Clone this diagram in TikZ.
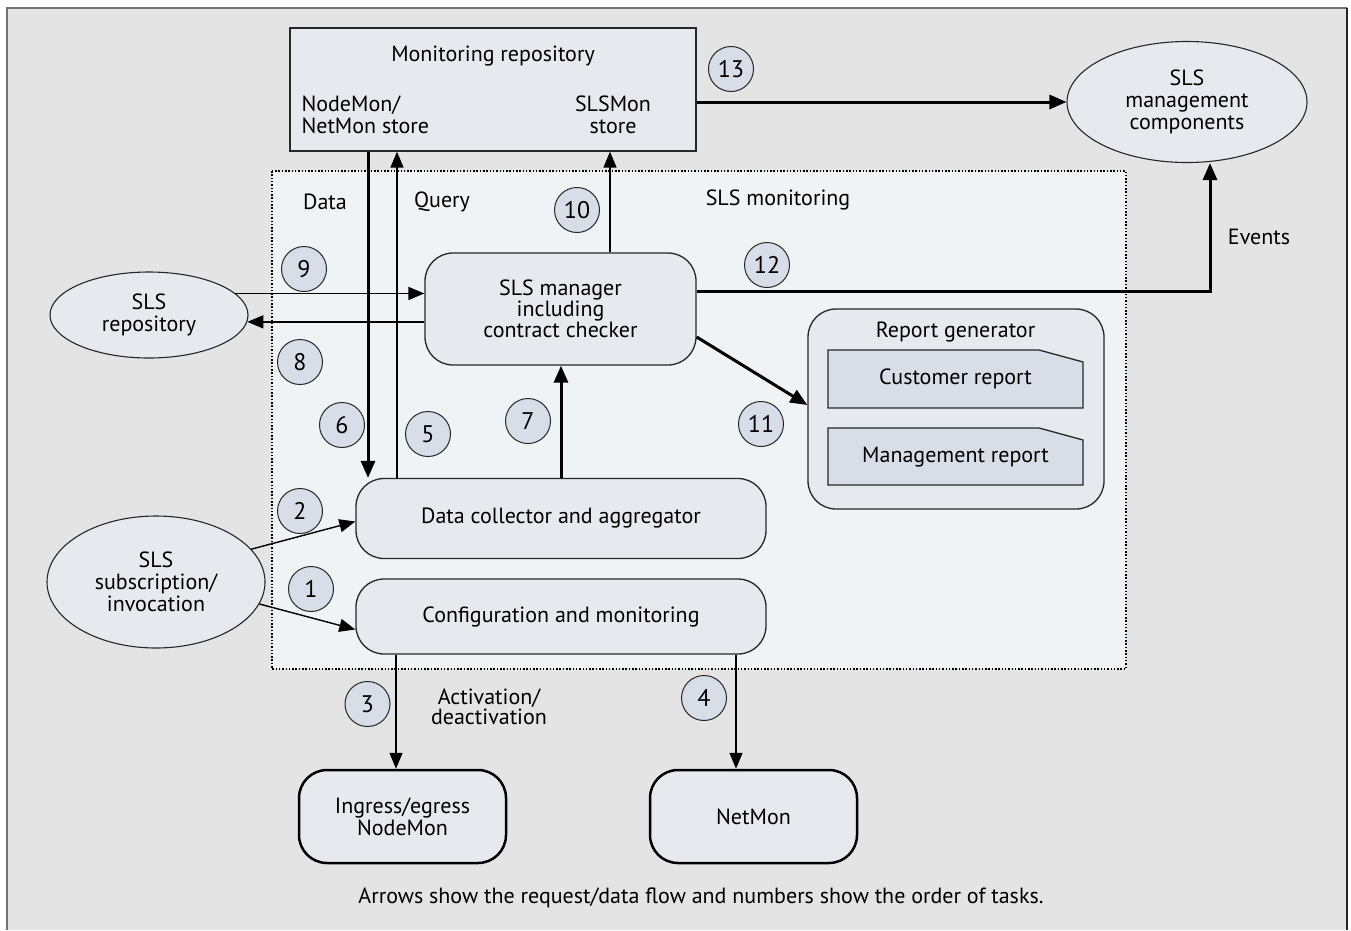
\documentclass[tikz,border=0pt]{standalone}
\usepackage{fontspec}
\setmainfont{PT Sans}
\usepackage{tikz}
\usepackage{xcolor}
\usetikzlibrary{arrows.meta,shapes.geometric,positioning}

\definecolor{framefill}{RGB}{228,228,228}
\definecolor{regionfill}{RGB}{240,243,246}
\definecolor{boxfill}{RGB}{230,234,238}
\definecolor{numfill}{RGB}{216,222,231}

\tikzset{
  box/.style={draw=black!85,fill=boxfill,rounded corners=28pt,line width=1.3pt,align=center},
  heavybox/.style={box,line width=2.5pt,draw=black},
  ell/.style={ellipse,draw=black!85,fill=boxfill,line width=1.1pt,align=center,inner sep=0pt},
  num/.style={circle,draw=black!85,fill=numfill,minimum size=45pt,inner sep=0pt,line width=1pt,font=\fontsize{24}{24}\selectfont},
  arr/.style={line width=1.4pt,-{Triangle[length=16pt,width=13pt]}},
  thickarr/.style={line width=3pt,-{Triangle[length=17pt,width=14pt]}},
  lbl/.style={align=center}
}

\begin{document}
\begin{tikzpicture}[x=1pt,y=-1pt,font=\fontsize{22}{22}\selectfont]
\useasboundingbox (0,0) rectangle (1351,930);

%Shape: Frame
\fill[framefill] (6,7) rectangle (1348,930);
\draw[line width=2pt,color=black!55] (7,930) -- (7,8) -- (1347,8);
\draw[line width=2pt,color=black!85] (1347,8) -- (1347,930);

%Shape: SLS monitoring region
\draw[line width=1.2pt,dash pattern={on 1.5pt off 1.8pt},fill=regionfill] (272,171) rectangle (1126,669);

%Shape: Monitoring repository
\node[draw=black!85,fill=boxfill,line width=1.3pt,minimum width=406pt,minimum height=123pt] (repo) at (493,89.5) {};
% Text Node
\node (repotitle) at (493,56) {Monitoring repository};
% Text Node
\node[anchor=west,align=left] (nodestore) at (298,115) {NodeMon/\\NetMon store};
% Text Node
\node[lbl] (slsstore) at (613,115) {SLSMon\\store};

%Shape: Ellipses
\node[ell,minimum width=240pt,minimum height=121pt] (mgmt) at (1187,102) {SLS\\management\\components};
\node[ell,minimum width=198pt,minimum height=86pt] (slsrepo) at (149,315) {SLS\\repository};
\node[ell,minimum width=218pt,minimum height=132pt] (subs) at (156,582) {SLS\\subscription/\\invocation};

%Shape: Rounded boxes
\node[box,minimum width=271pt,minimum height=112pt] (slsmgr) at (560.5,309) {SLS manager\\[-1pt]including\\[-1pt]contract checker};
\node[box,minimum width=410pt,minimum height=80pt] (collect) at (561,518.5) {Data collector and aggregator};
\node[box,minimum width=410pt,minimum height=75pt] (config) at (561,616.5) {Configuration and monitoring};
\node[heavybox,minimum width=207pt,minimum height=93pt] (ingress) at (402.5,816.5) {Ingress/egress\\NodeMon};
\node[heavybox,minimum width=207pt,minimum height=93pt] (netmon) at (753.5,816.5) {NetMon};

%Shape: Report generator
\node[box,minimum width=296pt,minimum height=200pt] (report) at (956,409) {};
% Text Node
\node (reporttitle) at (955.5,332) {Report generator};
\filldraw[draw=black!85,fill=numfill,line width=1.3pt] (828,408) -- (828,350) -- (1039,350) -- (1083,362) -- (1083,408) -- cycle;
\node (custrep) at (955.5,379) {Customer report};
\filldraw[draw=black!85,fill=numfill,line width=1.3pt] (828,485) -- (828,428) -- (1039,428) -- (1083,440) -- (1083,485) -- cycle;
\node (mgmtrep) at (955.5,457) {Management report};

%Straight Lines: connectors
\draw[thickarr] (repo.east |- mgmt.west) -- (mgmt.west);
\draw[thickarr] ([yshift=18pt]slsmgr.east) -| ([xshift=23pt]mgmt.south);
\draw[arr] (610,0 |- slsmgr.north) -- (610,0 |- repo.south);
\draw[thickarr] (368,0 |- repo.south) -- (368,0 |- collect.north);
\draw[arr] (397,0 |- collect.north) -- (397,0 |- repo.south);
\draw[arr] (slsrepo.14.5) -- (slsrepo.14.5 -| slsmgr.west);
\draw[arr] (slsmgr.west |- slsrepo.-4.1) -- (slsrepo.-4.1);
\draw[thickarr] (collect.north) -- (collect.north |- slsmgr.south);
\draw[thickarr] ([yshift=-28pt]slsmgr.east) -- ([yshift=4pt]report.west);
\draw[arr] (subs.19) -- ([yshift=-3pt]collect.west);
\draw[arr] (subs.-12) -- ([yshift=-13pt]config.west);
\draw[arr] ([xshift=-6.5pt]ingress.north |- config.south) -- ([xshift=-6.5pt]ingress.north);
\draw[arr] ([xshift=-17.5pt]netmon.north |- config.south) -- ([xshift=-17.5pt]netmon.north);

%Shape: Number circles
\node[num] (n1) at (311,589) {1};
\node[num] (n2) at (300,511) {2};
\node[num] (n3) at (367.5,704) {3};
\node[num] (n4) at (704,698) {4};
\node[num] (n5) at (428,434) {5};
\node[num] (n6) at (342,425) {6};
\node[num] (n7) at (528,421) {7};
\node[num] (n8) at (300,362) {8};
\node[num] (n9) at (304,269) {9};
\node[num] (n10) at (577,210) {10};
\node[num] (n11) at (761,424) {11};
\node[num] (n12) at (767,265) {12};
\node[num] (n13) at (731,69) {13};

% Text Node
\node (datalbl) at (325,202) {Data};
% Text Node
\node (querylbl) at (442,202) {Query};
% Text Node
\node (monlbl) at (778,200) {SLS monitoring};
% Text Node
\node (eventslbl) at (1259,237) {Events};
% Text Node
\node[lbl] (actlbl) at (489,707) {Activation/\\[-2pt]deactivation};
% Text Node
\node (caption) at (701,898) {Arrows show the request/data flow and numbers show the order of tasks.};

\end{tikzpicture}
\end{document}
